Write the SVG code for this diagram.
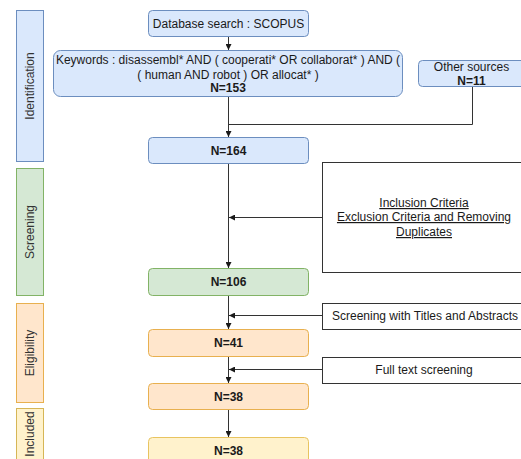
<svg xmlns="http://www.w3.org/2000/svg" width="521" height="459" viewBox="0 0 521 459">
<style>
text{font-family:"Liberation Sans",Arial,sans-serif;font-size:12px;fill:#1a1a1a;}
.c{text-anchor:middle;}
.b{font-weight:bold;}
.u{text-decoration:underline;}
.blue{fill:#dae8fc;stroke:#6c8ebf;}
.green{fill:#d5e8d4;stroke:#82b366;}
.orange{fill:#ffe6cc;stroke:#d79b00;}
.yellow{fill:#fff2cc;stroke:#d6b656;}
.plain{fill:#ffffff;stroke:#333333;}
.lane{stroke-width:1;}
.box{stroke-width:1;}
.edge{fill:none;stroke:#333333;stroke-width:1;}
.lbl{fill:#333333;}
</style>
<defs>
<marker id="arr" viewBox="0 0 6 6" refX="6" refY="3" markerWidth="6" markerHeight="6" markerUnits="userSpaceOnUse" orient="auto">
<path d="M0,0 L6,3 L0,6 Z" fill="#1a1a1a"/>
</marker>
</defs>

<g id="lane-identification">
<rect class="blue lane" x="16.5" y="10.5" width="27" height="151"/>
<text class="c lbl" transform="translate(34,86) rotate(-90)">Identification</text>
</g>
<g id="lane-screening">
<rect class="green lane" x="16.5" y="168.5" width="27" height="127"/>
<text class="c lbl" transform="translate(34,232) rotate(-90)">Screening</text>
</g>
<g id="lane-eligibility">
<rect class="orange lane" x="16.5" y="303.5" width="27" height="99" style="stroke:#e8b04f"/>
<text class="c lbl" transform="translate(34,353) rotate(-90)">Eligibility</text>
</g>
<g id="lane-included">
<rect class="yellow lane" x="16.5" y="408.5" width="27" height="60"/>
<text class="c lbl" transform="translate(34,434) rotate(-90)">Included</text>
</g>

<g id="connectors">
<line class="edge" x1="228.5" y1="37" x2="228.5" y2="50" marker-end="url(#arr)"/>
<line class="edge" x1="228.5" y1="97" x2="228.5" y2="137" marker-end="url(#arr)"/>
<polyline class="edge" points="472.5,87 472.5,124.5 228.5,124.5"/>
<line class="edge" x1="228.5" y1="164" x2="228.5" y2="268" marker-end="url(#arr)"/>
<line class="edge" x1="322" y1="217.5" x2="229" y2="217.5" marker-end="url(#arr)"/>
<line class="edge" x1="228.5" y1="296" x2="228.5" y2="329" marker-end="url(#arr)"/>
<line class="edge" x1="322" y1="315.5" x2="229" y2="315.5" marker-end="url(#arr)"/>
<line class="edge" x1="228.5" y1="357" x2="228.5" y2="383" marker-end="url(#arr)"/>
<line class="edge" x1="322" y1="369.5" x2="229" y2="369.5" marker-end="url(#arr)"/>
<line class="edge" x1="228.5" y1="410" x2="228.5" y2="437" marker-end="url(#arr)"/>
</g>

<g id="node-database">
<rect class="blue box" x="148.5" y="10.5" width="160" height="26" rx="4"/>
<text class="c" x="228.5" y="28">Database search : SCOPUS</text>
</g>
<g id="node-keywords">
<rect class="blue box" x="53.5" y="50.5" width="349" height="46" rx="7"/>
<text class="c" x="228" y="64">Keywords : disassembl* AND ( cooperati* OR collaborat* ) AND (</text>
<text class="c" x="228" y="79">( human AND robot ) OR allocat* )</text>
<text class="c b" x="228" y="92">N=153</text>
</g>
<g id="node-other">
<rect class="blue box" x="418.5" y="60.5" width="107" height="26" rx="4"/>
<text class="c" x="471.5" y="71">Other sources</text>
<text class="c b" x="471.5" y="85">N=11</text>
</g>
<g id="node-164">
<rect class="blue box" x="148.5" y="137.5" width="160" height="26" rx="4"/>
<text class="c b" x="228.5" y="155">N=164</text>
</g>
<g id="node-criteria">
<rect class="plain box" x="322.5" y="162.5" width="205" height="110"/>
<text class="c u" x="424" y="207">Inclusion Criteria</text>
<text class="c u" x="424" y="221">Exclusion Criteria and Removing</text>
<text class="c u" x="424" y="236">Duplicates</text>
</g>
<g id="node-106">
<rect class="green box" x="148.5" y="268.5" width="160" height="27" rx="4"/>
<text class="c b" x="228.5" y="286">N=106</text>
</g>
<g id="node-titles">
<rect class="plain box" x="322.5" y="303.5" width="205" height="26"/>
<text class="c" x="425" y="320">Screening with Titles and Abstracts</text>
</g>
<g id="node-41">
<rect class="orange box" x="148.5" y="329.5" width="160" height="27" rx="4" style="stroke:#e8b04f"/>
<text class="c b" x="228.5" y="347">N=41</text>
</g>
<g id="node-fulltext">
<rect class="plain box" x="322.5" y="357.5" width="205" height="26"/>
<text class="c" x="424" y="374">Full text screening</text>
</g>
<g id="node-38a">
<rect class="orange box" x="148.5" y="383.5" width="160" height="26" rx="4" style="stroke:#e8b04f"/>
<text class="c b" x="228.5" y="401">N=38</text>
</g>
<g id="node-38b">
<rect class="yellow box" x="148.5" y="437.5" width="160" height="30" rx="4" style="stroke:#e8c460"/>
<text class="c b" x="228.5" y="455">N=38</text>
</g>
</svg>
